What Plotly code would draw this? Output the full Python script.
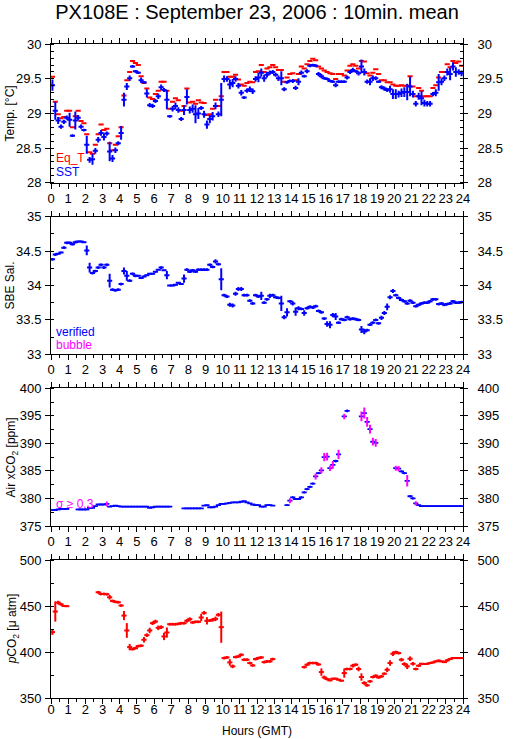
import plotly.graph_objects as go

N = None
# time of each 10-minute mean (hours, GMT)
hours = [(i + 0.5) / 6 for i in range(144)]

eq_t = [29.53, 29.17, 28.99, 28.93, 28.95, 29.04, 29.04, 28.80, 28.96, 29.04, 28.89, 28.86,
        28.70, 28.44, 28.42, 28.55, 28.70, 28.84, 28.76, 28.78, 28.57, 28.47, 28.55, 28.67,
        28.80, 29.26, 29.48, 29.60, 29.76, 29.73, 29.70, 29.54, 29.44, 29.36, 29.23, 29.21,
        29.28, 29.33, 29.46, 29.46, 29.33, 29.07, 29.17, 29.22, 29.19, 29.04, 29.11, 29.36,
        29.16, 29.17, 29.14, 29.19, 29.16, 29.15, 28.98, 28.99, 29.07, 29.20, 29.11, 29.25,
        29.60, 29.60, 29.53, 29.53, 29.56, 29.49, 29.42, 29.40, 29.44, 29.46, 29.45, 29.60,
        29.61, 29.70, 29.60, 29.65, 29.67, 29.70, 29.67, 29.63, 29.63, 29.46, 29.52, 29.57,
        29.58, 29.48, 29.57, 29.68, 29.65, 29.71, 29.76, 29.79, 29.77, 29.68, 29.65, 29.62,
        29.60, 29.58, 29.57, 29.50, 29.57, 29.57, 29.55, 29.62, 29.69, 29.71, 29.69, 29.65,
        29.76, 29.75, 29.58, 29.55, 29.59, 29.64, 29.57, 29.48, 29.48, 29.45, 29.45, 29.42,
        29.40, 29.40, 29.41, 29.40, 29.40, 29.54, 29.39, 29.25, 29.37, 29.33, 29.25, 29.25,
        29.25, 29.37, 29.41, 29.52, 29.60, 29.60, 29.71, 29.67, 29.76, 29.73, 29.75, 29.69]

sst = [29.41, 29.04, 28.90, 28.81, 28.88, 28.94, 28.91, 28.68, 28.90, 28.94, 28.81, 28.76,
       28.55, 28.33, 28.34, 28.46, 28.62, 28.72, 28.66, 28.71, 28.45, 28.35, 28.47, 28.57,
       28.72, 29.20, 29.39, 29.51, 29.68, 29.61, 29.59, 29.48, 29.45, 29.29, 29.12, 29.11,
       29.18, 29.25, 29.38, 29.34, 29.20, 28.96, 29.07, 29.11, 29.05, 28.92, 29.05, 29.24,
       29.05, 29.07, 28.99, 29.00, 29.08, 28.99, 28.84, 28.92, 28.96, 29.11, 28.99, 29.20,
       29.50, 29.50, 29.42, 29.44, 29.50, 29.40, 29.30, 29.23, 29.33, 29.35, 29.32, 29.50,
       29.52, 29.59, 29.51, 29.56, 29.59, 29.60, 29.56, 29.51, 29.51, 29.35, 29.45, 29.47,
       29.47, 29.37, 29.46, 29.59, 29.54, 29.61, 29.69, 29.70, 29.69, 29.57, 29.54, 29.51,
       29.50, 29.47, 29.46, 29.41, 29.46, 29.46, 29.46, 29.52, 29.60, 29.63, 29.61, 29.58,
       29.68, 29.60, 29.46, 29.46, 29.51, 29.51, 29.46, 29.38, 29.36, 29.34, 29.35, 29.28,
       29.28, 29.28, 29.30, 29.31, 29.31, 29.39, 29.28, 29.14, 29.25, 29.22, 29.15, 29.14,
       29.14, 29.28, 29.30, 29.45, 29.46, 29.51, 29.60, 29.57, 29.68, 29.60, 29.60, 29.58]

sst_sd = [.08, .13, .05, .03, .03, .03, .10, .02, .13, .04, .03, .02,
          .13, .04, .08, .04, .04, .04, .05, .03, .14, .05, .04, .03,
          .10, .10, .05, .04, .02, .02, .02, .04, .02, .06, .03, .03,
          .03, .04, .04, .03, .14, .02, .04, .05, .04, .03, .07, .11,
          .05, .06, .13, .08, .03, .05, .06, .06, .06, .05, .04, .24,
          .05, .04, .07, .06, .04, .04, .04, .02, .03, .04, .04, .04,
          .07, .06, .05, .04, .03, .03, .03, .04, .10, .03, .02, .02,
          .03, .03, .05, .03, .02, .03, .02, .02, .02, .03, .03, .02,
          .02, .02, .02, .03, .02, .02, .02, .03, .03, .03, .02, .03,
          .10, .05, .03, .05, .04, .03, .02, .03, .03, .03, .05, .07,
          .07, .05, .06, .07, .12, .14, .05, .04, .05, .10, .05, .04,
          .04, .03, .05, .12, .05, .04, .05, .09, .06, .07, .04, .04]

sal = [34.38, 34.45, 34.46, 34.48, 34.55, 34.62, 34.62, 34.60, 34.63, 34.64, 34.64, 34.63,
       34.51, 34.26, 34.18, 34.21, 34.26, 34.30, 34.26, 34.30, 34.07, 33.94, 33.93, 33.94,
       34.02, 34.21, 34.14, 34.07, 34.17, 34.14, 34.14, 34.11, 34.13, 34.15, 34.17, 34.17,
       34.20, 34.23, 34.26, 34.22, 34.15, 34.00, 34.00, 34.01, 34.04, 34.02, 34.10, 34.23,
       34.20, 34.22, 34.20, 34.23, 34.23, 34.23, 34.23, 34.30, 34.27, 34.35, 34.31, 34.09,
       33.86, 33.84, 33.72, 33.71, 33.88, 33.95, 33.95, 33.86, 33.86, 33.78, 33.74, 33.86,
       33.84, 33.85, 33.75, 33.80, 33.85, 33.86, 33.83, 33.82, 33.74, 33.54, 33.61, 33.77,
       33.74, 33.62, 33.67, 33.66, 33.60, 33.67, 33.69, 33.68, 33.70, 33.63, 33.61, 33.52,
       33.44, 33.43, 33.57, 33.55, 33.46, 33.51, 33.50, 33.54, 33.51, 33.52, 33.51, 33.50,
       33.36, 33.33, 33.35, 33.43, 33.46, 33.50, 33.45, 33.53, 33.60, 33.69, 33.83, 33.92,
       33.86, 33.82, 33.79, 33.77, 33.74, 33.78, 33.75, 33.70, 33.72, 33.74, 33.75, 33.75,
       33.77, 33.80, 33.80, 33.73, 33.74, 33.72, 33.73, 33.74, 33.77, 33.75, 33.75, 33.76]

sal_sd = [.02, .02, .01, .01, .02, .02, .02, .02, .02, .01, .01, .01,
          .07, .07, .02, .02, .02, .02, .02, .02, .10, .02, .02, .02,
          .02, .05, .07, .02, .02, .02, .01, .01, .01, .01, .01, .01,
          .01, .01, .02, .01, .06, .01, .01, .01, .01, .01, .06, .02,
          .02, .02, .02, .02, .02, .02, .02, .02, .02, .03, .02, .16,
          .02, .02, .03, .03, .03, .03, .03, .02, .02, .02, .02, .02,
          .02, .06, .02, .02, .03, .02, .02, .02, .11, .03, .06, .02,
          .03, .06, .03, .02, .04, .02, .02, .02, .02, .02, .02, .02,
          .04, .05, .03, .05, .02, .02, .02, .02, .02, .02, .02, .02,
          .05, .04, .02, .02, .02, .02, .02, .03, .03, .05, .03, .03,
          .02, .02, .02, .02, .02, .02, .02, .02, .02, .02, .02, .02,
          .02, .02, .02, .02, .02, .02, .02, .02, .02, .02, .02, .02]

xco2 = [377.9, 377.9, 378.0, 378.1, 378.1, 378.1, N, N, N, 378.0, 378.0, 378.0,
        378.0, 378.3, 378.3, 378.6, 378.9, 378.9, 378.9, 379.0, 378.5, 378.6, 378.7, 378.6,
        378.5, 378.5, 378.5, 378.5, 378.5, 378.5, 378.5, 378.5, 378.5, 378.5, 378.3, 378.4,
        378.5, 378.5, 378.5, 378.5, 378.5, 378.5, N, N, N, N, 378.2, 378.2,
        378.2, 378.2, 378.2, 378.2, 378.2, 378.7, 378.8, 378.4, 378.4, 378.5, 378.8, 379.0,
        379.0, 379.1, 379.2, 379.3, 379.3, 379.3, 379.4, 379.5, 379.3, 379.1, 378.9, 378.8,
        378.8, 378.5, 378.5, 378.8, 378.8, 378.7, N, N, N, N, 378.8, 379.6,
        380.2, 379.9, 379.9, 380.2, 381.1, 381.7, 382.1, 382.7, 384.0, 384.6, 385.1, 387.5,
        387.6, 385.5, 386.1, 386.8, 388.0, N, 394.9, 395.9, N, N, N, N,
        394.9, 395.5, 393.9, 392.6, 390.3, 390.1, N, N, N, N, N, N,
        385.5, 385.4, 384.9, 384.6, 383.2, 380.4, 380.0, 379.1, 378.8, 378.6, 378.6, 378.6,
        378.6, 378.6, 378.6, 378.6, 378.6, 378.6, 378.6, 378.6, 378.6, 378.6, 378.6, 378.6]

xco2_sd = [.05, .05, .05, .05, .05, .05, 0, 0, 0, .05, .05, .05,
           .05, .05, .05, .05, .05, .05, .05, .45, .05, .05, .05, .05,
           .05, .05, .05, .05, .05, .05, .05, .05, .05, .05, .05, .05,
           .05, .05, .05, .05, .05, .05, 0, 0, 0, 0, .05, .05,
           .05, .05, .05, .05, .05, .05, .05, .05, .05, .05, .05, .05,
           .05, .05, .05, .05, .05, .05, .05, .05, .05, .05, .05, .05,
           .05, .05, .05, .05, .05, .05, 0, 0, 0, 0, .10, .45,
           .20, .20, .20, .20, .20, .20, .20, .20, .55, .20, .55, .75,
           .70, .50, .70, .25, .85, 0, .50, .25, 0, 0, 0, 0,
           .90, 1.0, .90, .80, .70, .70, 0, 0, 0, 0, 0, 0,
           .45, .50, .20, .20, 1.05, .20, .20, .40, .10, .05, .05, .05,
           .05, .05, .05, .05, .05, .05, .05, .05, .05, .05, .05, .05]

pco2 = [421.6, 444.0, 453.7, 451.9, 450.1, 449.8, N, N, N, N, N, N,
        N, N, N, N, 464.9, 463.1, 463.1, 462.8, 459.5, 455.5, 454.5, 454.1,
        450.5, 439.6, 423.4, 405.3, 403.1, 404.2, 406.4, 406.8, 413.3, 418.3, 423.4, 431.3,
        433.1, 426.3, 427.0, 416.9, 421.2, 430.2, 430.2, 430.2, 430.6, 431.3, 431.3, 433.9,
        435.7, 432.1, 432.8, 432.8, 437.5, 442.5, 433.9, 434.2, 435.0, 436.0, 440.4, 427.0,
        393.4, 394.1, 388.7, 384.4, 394.5, 395.2, 397.0, 391.6, 391.6, 388.0, 385.4, 392.3,
        393.4, 394.1, 389.0, 389.8, 389.8, 392.3, N, N, N, N, N, N,
        N, N, N, N, 383.6, 386.2, 388.0, 388.0, 388.0, 386.5, 378.2, 372.4,
        370.6, 369.2, 371.0, 371.0, 369.9, 368.8, 377.1, 381.5, 381.5, 385.1, 386.2, 381.5,
        372.8, 366.3, 363.8, 368.1, 372.8, 374.2, 372.4, 373.5, 376.4, 380.7, 388.0, 398.1,
        399.9, 398.8, 391.6, 386.9, 384.4, 392.7, 387.2, 381.5, 385.1, 387.2, 386.9, 387.2,
        388.0, 388.7, 389.8, 390.5, 389.8, 389.0, 390.9, 392.3, 393.4, 393.4, 393.4, 393.4]

pco2_sd = [3, 11, 2, 1.5, 1, 1, 0, 0, 0, 0, 0, 0,
           0, 0, 0, 0, 1.5, 1.5, 1.5, 1.5, 2.5, 1.5, 1.5, 1.5,
           1.5, 5, 8, 3.5, 1.5, 1.5, 1.5, 1.5, 3, 2, 3, 2,
           2, 2.5, 2, 4, 5.5, 1.5, 1.5, 1.5, 1.5, 1.5, 1.5, 2,
           2, 1.5, 1.5, 1.5, 4, 2, 4, 1.5, 2, 2.5, 2, 17,
           1.5, 1.5, 3.5, 2, 1.5, 1.5, 1.5, 1.5, 1.5, 1.5, 1.5, 1.5,
           1.5, 1.5, 1.5, 1.5, 1.5, 1.5, 0, 0, 0, 0, 0, 0,
           0, 0, 0, 0, 1.5, 1.5, 1.5, 1.5, 1.5, 1.5, 4, 2,
           1.5, 1, 1, 1, 1, 1, 5, 1.5, 1.5, 2, 1.5, 2.5,
           4, 2, 1.5, 1.5, 1.5, 1.5, 1.5, 1.5, 1.5, 2.5, 3, 2.5,
           1.5, 1.5, 2, 2, 3, 2.5, 2, 1.5, 1.5, 1, 1, 1,
           1, 1, 1, 1.5, 1, 1, 1.5, 1, 1, 1, 1, 1]

SIGMA_LIMIT = 0.3
y_ranges = [[28, 30], [33, 35], [375, 400], [350, 500]]
y_major = [0.5, 0.5, 5, 50]
y_minor = [0.1, 0.25, 2.5, 25]
y_titles = ["Temp. [°C]", "SBE Sal.", "Air xCO<sub>2</sub> [ppm]", "<i>p</i>CO<sub>2</sub> [μ atm]"]

# ---------------- styling / layout ----------------
FONT = "Liberation Sans, Arial, Helvetica, sans-serif"
BLUE, RED, MAG = "#0000ff", "#ff0000", "#ff00ff"
HALF = 0.15          # half width of horizontal stroke (hours)
W, H = 515, 739
ML, MR, MT, MB = 51, 37, 44, 41
PW, PH = W - ML - MR, H - MT - MB


def py(p):  # pixel row -> paper y
    return (H - MB - p) / PH


def px(p):  # pixel column -> paper x
    return (p - ML) / PW


panel_px = [(44.3, 182.7), (216.7, 354.3), (388.3, 526.0), (560.0, 698.3)]
domains = [[max(0, py(b)), min(1, py(t))] for t, b in panel_px]

fig = go.Figure()


def cross(y, sd, color, ax, show_x=True, show_y=True, thick=2):
    xa, ya = ax
    fig.add_trace(go.Scatter(
        x=hours, y=y, mode="markers", xaxis=xa, yaxis=ya,
        marker=dict(size=1, color=color),
        error_x=dict(type="constant", value=HALF, width=0, thickness=thick,
                     color=color, visible=show_x),
        error_y=dict(type="data", array=sd, width=0, thickness=thick,
                     color=color, visible=show_y),
        showlegend=False, hoverinfo="skip"))


ax_ids = [("x", "y"), ("x2", "y2"), ("x3", "y3"), ("x4", "y4")]

# Panel 1: temperatures
cross(eq_t, None, RED, ax_ids[0], show_y=False)
cross(sst, sst_sd, BLUE, ax_ids[0])
# Panel 2: salinity
cross(sal, sal_sd, BLUE, ax_ids[1])
# Panel 3: air xCO2 (magenta error bars where sigma >= limit)
xco2_sd_blue = [s if s < SIGMA_LIMIT else 0 for s in xco2_sd]
xco2_sd_mag = [s if s >= SIGMA_LIMIT else 0 for s in xco2_sd]
xco2_mag = [v if s >= SIGMA_LIMIT else None for v, s in zip(xco2, xco2_sd)]
cross(xco2, xco2_sd_blue, BLUE, ax_ids[2], thick=1.8)
cross(xco2_mag, xco2_sd_mag, MAG, ax_ids[2], show_x=False)
# Panel 4: pCO2
cross(pco2, pco2_sd, RED, ax_ids[3])

tickfont = dict(family=FONT, size=13, color="black")
layout = dict(width=W, height=H, autosize=False,
              margin=dict(l=ML, r=MR, t=MT, b=MB, pad=0),
              paper_bgcolor="white", plot_bgcolor="white",
              font=dict(family=FONT, size=13, color="black"),
              showlegend=False,
              title=dict(text="PX108E : September 23, 2006 : 10min. mean",
                         font=dict(family=FONT, size=20, color="black"),
                         x=px((ML + W - MR) / 2), xref="paper", xanchor="center",
                         y=1 - 11.5 / H, yanchor="middle"))

for p in range(4):
    xs = "" if p == 0 else str(p + 1)
    xid, yid = ax_ids[p]
    ox, oy = f"x{p + 5}", f"y{p + 5}"
    common_x = dict(range=[0, 24], tick0=0, dtick=1, ticks="outside", ticklen=5,
                    tickwidth=1, tickcolor="black", showline=True, linecolor="black",
                    linewidth=1, showgrid=False, zeroline=False, fixedrange=True,
                    tickfont=tickfont,
                    minor=dict(dtick=0.5, tick0=0, ticks="outside", ticklen=3,
                               tickwidth=1, tickcolor="black", showgrid=False))
    common_y = dict(range=y_ranges[p], tick0=y_ranges[p][0], dtick=y_major[p],
                    ticks="outside", ticklen=5, tickwidth=1, tickcolor="black",
                    showline=True, linecolor="black", linewidth=1, showgrid=False,
                    zeroline=False, fixedrange=True, tickfont=tickfont,
                    minor=dict(dtick=y_minor[p], tick0=y_ranges[p][0], ticks="inside",
                               ticklen=3, tickwidth=1, tickcolor="black", showgrid=False))
    layout[f"xaxis{xs}"] = dict(common_x, domain=[0, 1], anchor=yid,
                                showticklabels=(p == 3), ticklabelstandoff=-6)
    layout[f"yaxis{xs}"] = dict(common_y, domain=domains[p], anchor=xid,
                                ticklabelstandoff=1)
    layout[f"xaxis{p + 5}"] = dict(common_x, overlaying=xid, side="top", anchor=yid,
                                   showticklabels=(p > 0), ticklabelstandoff=3)
    ry = dict(common_y)
    ry["ticklen"] = 4
    layout[f"yaxis{p + 5}"] = dict(ry, overlaying=yid, side="right", anchor=xid,
                                   ticklabelstandoff=7)
    fig.add_trace(go.Scatter(x=[0], y=[y_ranges[p][0]], xaxis=ox, yaxis=oy,
                             mode="markers", marker=dict(opacity=0, size=1),
                             showlegend=False, hoverinfo="skip"))

fig.update_layout(**layout)

ann = []
title_pos = [(8.5, 113.5), (7.5, 285.5), (11, 457), (12, 629)]
for p in range(4):
    tx, ty = title_pos[p]
    ann.append(dict(text=y_titles[p], xref="paper", yref="paper", x=px(tx), y=py(ty),
                    xanchor="center", yanchor="middle", textangle=-90, showarrow=False,
                    font=dict(family=FONT, size=12, color="black")))
ann.append(dict(text="Hours (GMT)", xref="paper", yref="paper", x=0.5, y=py(731),
                xanchor="center", yanchor="middle", showarrow=False,
                font=dict(family=FONT, size=12, color="black")))
legend_items = [("Eq_T", RED, 158), ("SST", BLUE, 172.5), ("verified", BLUE, 332),
                ("bubble", MAG, 345), ("σ ≥ 0.3", MAG, 504)]
for txt, col, yy in legend_items:
    ann.append(dict(text=txt, xref="paper", yref="paper", x=px(54), y=py(yy),
                    xanchor="left", yanchor="middle", showarrow=False,
                    font=dict(family=FONT, size=12, color=col)))
fig.update_layout(annotations=ann)

# remove the browser's default page margin so the figure sits at the window's corner
fig.write_html("out.html", config={"displayModeBar": False},
               post_script="document.body.style.margin='0';")
